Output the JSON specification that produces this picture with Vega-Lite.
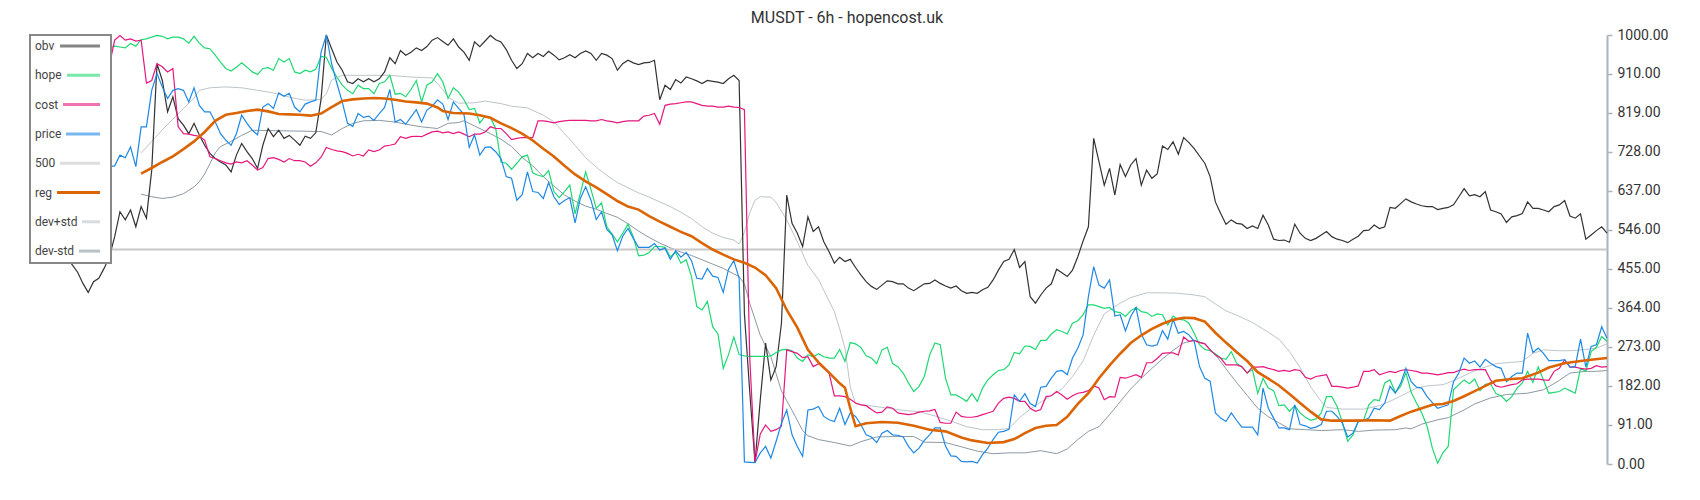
{
"$schema": "https://vega.github.io/schema/vega-lite/v6.json",
"width": 1577,
"height": 429,
"autosize": {"type": "none"},
"padding": {"left": 30, "top": 35, "right": 93, "bottom": 36},
"background": "white",
"title": {"text": "MUSDT - 6h - hopencost.uk", "font": "Roboto", "fontSize": 16, "fontWeight": "normal", "color": "#333333", "anchor": "middle", "frame": "bounds", "offset": 2},
"config": {"view": {"stroke": null}, "font": "Roboto"},
"datasets": {
"main": [
{"i":0,"obv":545,"hope":975,"cost":900,"price":700},
{"i":1,"obv":530,"hope":978,"cost":905,"price":705},
{"i":2,"obv":555,"hope":972,"cost":910,"price":695},
{"i":3,"obv":528,"hope":980,"cost":902,"price":710},
{"i":4,"obv":512,"hope":985,"cost":895,"price":700},
{"i":5,"obv":500,"hope":978,"cost":905,"price":690},
{"i":6,"obv":490,"hope":982,"cost":912,"price":698},
{"i":7,"obv":478,"hope":988,"cost":908,"price":705},
{"i":8,"obv":464,"hope":980,"cost":900,"price":700},
{"i":9,"obv":447,"hope":975,"cost":895,"price":692},
{"i":10,"obv":421,"hope":970,"cost":890,"price":700},
{"i":11,"obv":400,"hope":968,"cost":885,"price":695},
{"i":12,"obv":425,"hope":972,"cost":880,"price":690},
{"i":13,"obv":433,"hope":966,"cost":875,"price":698},
{"i":14,"obv":456,"hope":965,"cost":870,"price":697},
{"i":15,"obv":483,"hope":970,"cost":930,"price":693},
{"i":16,"obv":530,"hope":974,"cost":988,"price":695},
{"i":17,"obv":588,"hope":972,"cost":999,"price":720},
{"i":18,"obv":569,"hope":970,"cost":988,"price":714},
{"i":19,"obv":592,"hope":980,"cost":991,"price":739},
{"i":20,"obv":553,"hope":974,"cost":986,"price":693},
{"i":21,"obv":600,"hope":989,"cost":988,"price":786},
{"i":22,"obv":573,"hope":991,"cost":888,"price":786},
{"i":23,"obv":685,"hope":995,"cost":894,"price":871},
{"i":24,"obv":933,"hope":999,"cost":933,"price":910},
{"i":25,"obv":894,"hope":997,"cost":926,"price":879},
{"i":26,"obv":821,"hope":991,"cost":914,"price":852},
{"i":27,"obv":856,"hope":995,"cost":922,"price":871},
{"i":28,"obv":805,"hope":995,"cost":786,"price":875},
{"i":29,"obv":790,"hope":991,"cost":770,"price":871},
{"i":30,"obv":770,"hope":981,"cost":769,"price":844},
{"i":31,"obv":794,"hope":997,"cost":766,"price":877},
{"i":32,"obv":767,"hope":981,"cost":764,"price":836},
{"i":33,"obv":743,"hope":970,"cost":755,"price":821},
{"i":34,"obv":724,"hope":968,"cost":716,"price":821},
{"i":35,"obv":712,"hope":953,"cost":712,"price":798},
{"i":36,"obv":704,"hope":937,"cost":707,"price":770},
{"i":37,"obv":697,"hope":922,"cost":702,"price":755},
{"i":38,"obv":681,"hope":916,"cost":699,"price":743},
{"i":39,"obv":720,"hope":925,"cost":704,"price":770},
{"i":40,"obv":747,"hope":935,"cost":702,"price":813},
{"i":41,"obv":728,"hope":925,"cost":707,"price":794},
{"i":42,"obv":712,"hope":914,"cost":697,"price":778},
{"i":43,"obv":689,"hope":908,"cost":685,"price":767},
{"i":44,"obv":743,"hope":922,"cost":691,"price":832},
{"i":45,"obv":782,"hope":924,"cost":712,"price":840},
{"i":46,"obv":763,"hope":918,"cost":714,"price":829},
{"i":47,"obv":778,"hope":945,"cost":710,"price":865},
{"i":48,"obv":759,"hope":937,"cost":704,"price":857},
{"i":49,"obv":766,"hope":945,"cost":712,"price":864},
{"i":50,"obv":755,"hope":914,"cost":707,"price":832},
{"i":51,"obv":743,"hope":910,"cost":707,"price":821},
{"i":52,"obv":764,"hope":918,"cost":704,"price":839},
{"i":53,"obv":759,"hope":914,"cost":694,"price":844},
{"i":54,"obv":772,"hope":920,"cost":702,"price":848},
{"i":55,"obv":850,"hope":950,"cost":715,"price":960},
{"i":56,"obv":1000,"hope":948,"cost":738,"price":1000},
{"i":57,"obv":968,"hope":922,"cost":733,"price":933},
{"i":58,"obv":937,"hope":902,"cost":730,"price":887},
{"i":59,"obv":918,"hope":883,"cost":728,"price":844},
{"i":60,"obv":891,"hope":871,"cost":724,"price":794},
{"i":61,"obv":887,"hope":863,"cost":718,"price":787},
{"i":62,"obv":898,"hope":883,"cost":722,"price":817},
{"i":63,"obv":891,"hope":875,"cost":718,"price":808},
{"i":64,"obv":898,"hope":875,"cost":732,"price":811},
{"i":65,"obv":891,"hope":863,"cost":728,"price":801},
{"i":66,"obv":898,"hope":887,"cost":732,"price":817},
{"i":67,"obv":914,"hope":891,"cost":741,"price":831},
{"i":68,"obv":947,"hope":906,"cost":743,"price":873},
{"i":69,"obv":933,"hope":862,"cost":746,"price":797},
{"i":70,"obv":964,"hope":864,"cost":763,"price":803},
{"i":71,"obv":953,"hope":856,"cost":759,"price":792},
{"i":72,"obv":960,"hope":873,"cost":763,"price":809},
{"i":73,"obv":970,"hope":894,"cost":764,"price":826},
{"i":74,"obv":964,"hope":844,"cost":763,"price":797},
{"i":75,"obv":973,"hope":883,"cost":769,"price":825},
{"i":76,"obv":988,"hope":891,"cost":774,"price":834},
{"i":77,"obv":994,"hope":910,"cost":776,"price":849},
{"i":78,"obv":985,"hope":891,"cost":772,"price":839},
{"i":79,"obv":976,"hope":852,"cost":774,"price":803},
{"i":80,"obv":991,"hope":877,"cost":770,"price":844},
{"i":81,"obv":972,"hope":867,"cost":774,"price":829},
{"i":82,"obv":960,"hope":849,"cost":769,"price":815},
{"i":83,"obv":941,"hope":826,"cost":763,"price":738},
{"i":84,"obv":984,"hope":829,"cost":769,"price":767},
{"i":85,"obv":973,"hope":795,"cost":769,"price":720},
{"i":86,"obv":986,"hope":811,"cost":774,"price":738},
{"i":87,"obv":999,"hope":808,"cost":786,"price":739},
{"i":88,"obv":989,"hope":782,"cost":782,"price":728},
{"i":89,"obv":984,"hope":704,"cost":782,"price":712},
{"i":90,"obv":966,"hope":701,"cost":770,"price":670},
{"i":91,"obv":941,"hope":687,"cost":756,"price":666},
{"i":92,"obv":922,"hope":701,"cost":759,"price":615},
{"i":93,"obv":933,"hope":716,"cost":761,"price":628},
{"i":94,"obv":957,"hope":720,"cost":761,"price":681},
{"i":95,"obv":947,"hope":679,"cost":761,"price":635},
{"i":96,"obv":957,"hope":673,"cost":800,"price":633},
{"i":97,"obv":950,"hope":670,"cost":800,"price":619},
{"i":98,"obv":962,"hope":684,"cost":798,"price":656},
{"i":99,"obv":953,"hope":635,"cost":795,"price":623},
{"i":100,"obv":942,"hope":621,"cost":798,"price":605},
{"i":101,"obv":947,"hope":635,"cost":800,"price":614},
{"i":102,"obv":954,"hope":650,"cost":801,"price":621},
{"i":103,"obv":947,"hope":583,"cost":801,"price":562},
{"i":104,"obv":957,"hope":631,"cost":801,"price":619},
{"i":105,"obv":963,"hope":681,"cost":801,"price":646},
{"i":106,"obv":957,"hope":640,"cost":800,"price":615},
{"i":107,"obv":941,"hope":596,"cost":800,"price":570},
{"i":108,"obv":957,"hope":609,"cost":803,"price":588},
{"i":109,"obv":953,"hope":553,"cost":800,"price":547},
{"i":110,"obv":945,"hope":536,"cost":798,"price":534},
{"i":111,"obv":918,"hope":518,"cost":795,"price":497},
{"i":112,"obv":933,"hope":538,"cost":798,"price":531},
{"i":113,"obv":941,"hope":559,"cost":800,"price":549},
{"i":114,"obv":935,"hope":530,"cost":800,"price":526},
{"i":115,"obv":931,"hope":485,"cost":800,"price":505},
{"i":116,"obv":935,"hope":487,"cost":811,"price":505},
{"i":117,"obv":936,"hope":493,"cost":813,"price":505},
{"i":118,"obv":941,"hope":507,"cost":817,"price":514},
{"i":119,"obv":849,"hope":507,"cost":792,"price":499},
{"i":120,"obv":883,"hope":505,"cost":836,"price":503},
{"i":121,"obv":873,"hope":483,"cost":839,"price":477},
{"i":122,"obv":896,"hope":493,"cost":840,"price":497},
{"i":123,"obv":888,"hope":468,"cost":842,"price":482},
{"i":124,"obv":902,"hope":476,"cost":844,"price":493},
{"i":125,"obv":898,"hope":437,"cost":844,"price":474},
{"i":126,"obv":893,"hope":367,"cost":840,"price":433},
{"i":127,"obv":887,"hope":359,"cost":836,"price":431},
{"i":128,"obv":894,"hope":379,"cost":834,"price":456},
{"i":129,"obv":892,"hope":320,"cost":834,"price":438},
{"i":130,"obv":890,"hope":303,"cost":832,"price":435},
{"i":131,"obv":887,"hope":223,"cost":832,"price":400},
{"i":132,"obv":898,"hope":255,"cost":834,"price":454},
{"i":133,"obv":906,"hope":296,"cost":832,"price":474},
{"i":134,"obv":894,"hope":255,"cost":831,"price":433},
{"i":135,"obv":350,"hope":252,"cost":826,"price":5},
{"i":136,"obv":170,"hope":251,"cost":250,"price":4},
{"i":137,"obv":3,"hope":251,"cost":4,"price":3},
{"i":138,"obv":150,"hope":251,"cost":70,"price":26},
{"i":139,"obv":282,"hope":251,"cost":91,"price":41},
{"i":140,"obv":196,"hope":252,"cost":76,"price":14},
{"i":141,"obv":227,"hope":260,"cost":80,"price":53},
{"i":142,"obv":328,"hope":266,"cost":88,"price":95},
{"i":143,"obv":627,"hope":267,"cost":266,"price":126},
{"i":144,"obv":561,"hope":264,"cost":262,"price":68},
{"i":145,"obv":538,"hope":247,"cost":258,"price":41},
{"i":146,"obv":507,"hope":239,"cost":248,"price":18},
{"i":147,"obv":576,"hope":255,"cost":250,"price":126},
{"i":148,"obv":542,"hope":250,"cost":227,"price":128},
{"i":149,"obv":553,"hope":257,"cost":234,"price":134},
{"i":150,"obv":518,"hope":250,"cost":223,"price":111},
{"i":151,"obv":495,"hope":247,"cost":212,"price":103},
{"i":152,"obv":468,"hope":247,"cost":159,"price":99},
{"i":153,"obv":482,"hope":267,"cost":159,"price":130},
{"i":154,"obv":472,"hope":239,"cost":157,"price":92},
{"i":155,"obv":477,"hope":283,"cost":151,"price":119},
{"i":156,"obv":458,"hope":280,"cost":142,"price":111},
{"i":157,"obv":441,"hope":272,"cost":138,"price":92},
{"i":158,"obv":425,"hope":252,"cost":136,"price":68},
{"i":159,"obv":414,"hope":247,"cost":127,"price":63},
{"i":160,"obv":407,"hope":234,"cost":119,"price":50},
{"i":161,"obv":417,"hope":266,"cost":121,"price":72},
{"i":162,"obv":427,"hope":272,"cost":133,"price":78},
{"i":163,"obv":425,"hope":234,"cost":130,"price":68},
{"i":164,"obv":420,"hope":227,"cost":119,"price":67},
{"i":165,"obv":420,"hope":212,"cost":117,"price":63},
{"i":166,"obv":410,"hope":189,"cost":115,"price":41},
{"i":167,"obv":404,"hope":169,"cost":117,"price":26},
{"i":168,"obv":412,"hope":181,"cost":121,"price":37},
{"i":169,"obv":420,"hope":204,"cost":123,"price":55},
{"i":170,"obv":421,"hope":254,"cost":124,"price":68},
{"i":171,"obv":429,"hope":282,"cost":127,"price":84},
{"i":172,"obv":421,"hope":278,"cost":97,"price":84},
{"i":173,"obv":415,"hope":200,"cost":95,"price":42},
{"i":174,"obv":410,"hope":161,"cost":95,"price":19},
{"i":175,"obv":415,"hope":161,"cost":121,"price":18},
{"i":176,"obv":404,"hope":154,"cost":111,"price":6},
{"i":177,"obv":398,"hope":146,"cost":109,"price":5},
{"i":178,"obv":400,"hope":164,"cost":109,"price":6},
{"i":179,"obv":398,"hope":146,"cost":111,"price":2},
{"i":180,"obv":406,"hope":177,"cost":115,"price":22},
{"i":181,"obv":412,"hope":196,"cost":119,"price":37},
{"i":182,"obv":429,"hope":208,"cost":123,"price":57},
{"i":183,"obv":452,"hope":218,"cost":142,"price":74},
{"i":184,"obv":472,"hope":220,"cost":153,"price":76},
{"i":185,"obv":477,"hope":231,"cost":156,"price":81},
{"i":186,"obv":500,"hope":260,"cost":153,"price":161},
{"i":187,"obv":458,"hope":257,"cost":146,"price":146},
{"i":188,"obv":472,"hope":275,"cost":146,"price":164},
{"i":189,"obv":390,"hope":274,"cost":130,"price":141},
{"i":190,"obv":375,"hope":267,"cost":123,"price":134},
{"i":191,"obv":394,"hope":288,"cost":127,"price":179},
{"i":192,"obv":410,"hope":288,"cost":157,"price":181},
{"i":193,"obv":420,"hope":303,"cost":159,"price":200},
{"i":194,"obv":454,"hope":313,"cost":169,"price":216},
{"i":195,"obv":446,"hope":309,"cost":161,"price":218},
{"i":196,"obv":437,"hope":303,"cost":151,"price":208},
{"i":197,"obv":452,"hope":328,"cost":159,"price":247},
{"i":198,"obv":483,"hope":334,"cost":165,"price":270},
{"i":199,"obv":520,"hope":348,"cost":167,"price":301},
{"i":200,"obv":553,"hope":371,"cost":171,"price":390},
{"i":201,"obv":759,"hope":371,"cost":182,"price":460},
{"i":202,"obv":705,"hope":367,"cost":177,"price":417},
{"i":203,"obv":650,"hope":363,"cost":150,"price":410},
{"i":204,"obv":689,"hope":365,"cost":157,"price":429},
{"i":205,"obv":627,"hope":355,"cost":156,"price":345},
{"i":206,"obv":698,"hope":353,"cost":202,"price":348},
{"i":207,"obv":670,"hope":344,"cost":200,"price":310},
{"i":208,"obv":697,"hope":357,"cost":204,"price":344},
{"i":209,"obv":712,"hope":365,"cost":208,"price":365},
{"i":210,"obv":650,"hope":355,"cost":202,"price":303},
{"i":211,"obv":685,"hope":353,"cost":236,"price":278},
{"i":212,"obv":666,"hope":344,"cost":236,"price":275},
{"i":213,"obv":676,"hope":350,"cost":246,"price":278},
{"i":214,"obv":741,"hope":348,"cost":258,"price":311},
{"i":215,"obv":733,"hope":324,"cost":259,"price":291},
{"i":216,"obv":751,"hope":345,"cost":259,"price":337},
{"i":217,"obv":722,"hope":337,"cost":254,"price":305},
{"i":218,"obv":761,"hope":336,"cost":296,"price":309},
{"i":219,"obv":749,"hope":328,"cost":286,"price":301},
{"i":220,"obv":735,"hope":305,"cost":288,"price":286},
{"i":221,"obv":718,"hope":278,"cost":283,"price":227},
{"i":222,"obv":701,"hope":267,"cost":280,"price":200},
{"i":223,"obv":670,"hope":264,"cost":266,"price":193},
{"i":224,"obv":611,"hope":257,"cost":254,"price":119},
{"i":225,"obv":584,"hope":247,"cost":247,"price":107},
{"i":226,"obv":559,"hope":244,"cost":231,"price":99},
{"i":227,"obv":569,"hope":262,"cost":231,"price":119},
{"i":228,"obv":561,"hope":235,"cost":231,"price":102},
{"i":229,"obv":559,"hope":226,"cost":227,"price":86},
{"i":230,"obv":549,"hope":212,"cost":212,"price":86},
{"i":231,"obv":555,"hope":220,"cost":226,"price":86},
{"i":232,"obv":549,"hope":165,"cost":226,"price":68},
{"i":233,"obv":580,"hope":200,"cost":227,"price":177},
{"i":234,"obv":557,"hope":177,"cost":223,"price":130},
{"i":235,"obv":524,"hope":171,"cost":220,"price":107},
{"i":236,"obv":521,"hope":136,"cost":216,"price":84},
{"i":237,"obv":522,"hope":138,"cost":218,"price":84},
{"i":238,"obv":517,"hope":123,"cost":216,"price":80},
{"i":239,"obv":559,"hope":136,"cost":220,"price":138},
{"i":240,"obv":538,"hope":119,"cost":218,"price":92},
{"i":241,"obv":526,"hope":109,"cost":202,"price":89},
{"i":242,"obv":521,"hope":102,"cost":198,"price":83},
{"i":243,"obv":526,"hope":105,"cost":204,"price":86},
{"i":244,"obv":534,"hope":119,"cost":206,"price":92},
{"i":245,"obv":542,"hope":157,"cost":208,"price":123},
{"i":246,"obv":530,"hope":157,"cost":181,"price":123},
{"i":247,"obv":524,"hope":134,"cost":181,"price":111},
{"i":248,"obv":521,"hope":97,"cost":179,"price":95},
{"i":249,"obv":516,"hope":53,"cost":177,"price":63},
{"i":250,"obv":524,"hope":68,"cost":179,"price":72},
{"i":251,"obv":531,"hope":99,"cost":182,"price":99},
{"i":252,"obv":544,"hope":102,"cost":216,"price":102},
{"i":253,"obv":545,"hope":138,"cost":216,"price":107},
{"i":254,"obv":557,"hope":150,"cost":220,"price":130},
{"i":255,"obv":549,"hope":148,"cost":208,"price":127},
{"i":256,"obv":553,"hope":189,"cost":212,"price":142},
{"i":257,"obv":598,"hope":196,"cost":216,"price":181},
{"i":258,"obv":596,"hope":167,"cost":213,"price":165},
{"i":259,"obv":607,"hope":181,"cost":218,"price":188},
{"i":260,"obv":618,"hope":213,"cost":220,"price":223},
{"i":261,"obv":611,"hope":167,"cost":218,"price":192},
{"i":262,"obv":606,"hope":142,"cost":216,"price":179},
{"i":263,"obv":602,"hope":119,"cost":212,"price":177},
{"i":264,"obv":600,"hope":88,"cost":212,"price":157},
{"i":265,"obv":600,"hope":37,"cost":210,"price":143},
{"i":266,"obv":593,"hope":2,"cost":208,"price":130},
{"i":267,"obv":596,"hope":26,"cost":210,"price":134},
{"i":268,"obv":598,"hope":41,"cost":213,"price":138},
{"i":269,"obv":604,"hope":173,"cost":213,"price":192},
{"i":270,"obv":623,"hope":185,"cost":218,"price":212},
{"i":271,"obv":642,"hope":196,"cost":221,"price":247},
{"i":272,"obv":625,"hope":187,"cost":218,"price":235},
{"i":273,"obv":628,"hope":198,"cost":220,"price":240},
{"i":274,"obv":623,"hope":171,"cost":220,"price":226},
{"i":275,"obv":635,"hope":186,"cost":220,"price":244},
{"i":276,"obv":592,"hope":187,"cost":196,"price":235},
{"i":277,"obv":588,"hope":164,"cost":182,"price":227},
{"i":278,"obv":583,"hope":159,"cost":179,"price":223},
{"i":279,"obv":563,"hope":146,"cost":182,"price":192},
{"i":280,"obv":576,"hope":157,"cost":185,"price":204},
{"i":281,"obv":579,"hope":177,"cost":187,"price":212},
{"i":282,"obv":584,"hope":189,"cost":196,"price":212},
{"i":283,"obv":611,"hope":216,"cost":198,"price":305},
{"i":284,"obv":596,"hope":190,"cost":198,"price":260},
{"i":285,"obv":596,"hope":226,"cost":198,"price":270},
{"i":286,"obv":592,"hope":196,"cost":196,"price":258},
{"i":287,"obv":588,"hope":165,"cost":195,"price":241},
{"i":288,"obv":600,"hope":167,"cost":216,"price":241},
{"i":289,"obv":604,"hope":169,"cost":223,"price":241},
{"i":290,"obv":614,"hope":177,"cost":243,"price":243},
{"i":291,"obv":578,"hope":171,"cost":226,"price":226},
{"i":292,"obv":573,"hope":165,"cost":226,"price":227},
{"i":293,"obv":583,"hope":223,"cost":223,"price":291},
{"i":294,"obv":524,"hope":216,"cost":221,"price":226},
{"i":295,"obv":534,"hope":262,"cost":223,"price":274},
{"i":296,"obv":544,"hope":272,"cost":229,"price":278},
{"i":297,"obv":553,"hope":297,"cost":226,"price":320},
{"i":298,"obv":538,"hope":286,"cost":227,"price":293}
],
"bands": [
{"s":"500","i":0,"v":500},{"s":"500","i":298,"v":500},
{"s":"reg","i":21,"v":677},{"s":"reg","i":23,"v":690},{"s":"reg","i":25,"v":704},{"s":"reg","i":27,"v":717},{"s":"reg","i":29,"v":734},{"s":"reg","i":31,"v":752},{"s":"reg","i":33,"v":774},{"s":"reg","i":35,"v":800},{"s":"reg","i":37,"v":814},{"s":"reg","i":39,"v":818},{"s":"reg","i":41,"v":823},{"s":"reg","i":43,"v":826},{"s":"reg","i":45,"v":822},{"s":"reg","i":47,"v":816},{"s":"reg","i":49,"v":815},{"s":"reg","i":51,"v":814},{"s":"reg","i":53,"v":812},{"s":"reg","i":55,"v":817},{"s":"reg","i":57,"v":832},{"s":"reg","i":59,"v":846},{"s":"reg","i":61,"v":850},{"s":"reg","i":63,"v":852},{"s":"reg","i":65,"v":853},{"s":"reg","i":67,"v":852},{"s":"reg","i":69,"v":849},{"s":"reg","i":71,"v":845},{"s":"reg","i":73,"v":843},{"s":"reg","i":75,"v":840},{"s":"reg","i":77,"v":831},{"s":"reg","i":78,"v":823},{"s":"reg","i":80,"v":818},{"s":"reg","i":83,"v":817},{"s":"reg","i":85,"v":813},{"s":"reg","i":87,"v":807},{"s":"reg","i":89,"v":794},{"s":"reg","i":91,"v":783},{"s":"reg","i":93,"v":770},{"s":"reg","i":95,"v":754},{"s":"reg","i":97,"v":735},{"s":"reg","i":99,"v":717},{"s":"reg","i":101,"v":695},{"s":"reg","i":103,"v":675},{"s":"reg","i":105,"v":659},{"s":"reg","i":107,"v":645},{"s":"reg","i":109,"v":629},{"s":"reg","i":111,"v":613},{"s":"reg","i":113,"v":600},{"s":"reg","i":115,"v":593},{"s":"reg","i":117,"v":578},{"s":"reg","i":119,"v":565},{"s":"reg","i":121,"v":553},{"s":"reg","i":123,"v":541},{"s":"reg","i":125,"v":531},{"s":"reg","i":127,"v":515},{"s":"reg","i":129,"v":500},{"s":"reg","i":131,"v":488},{"s":"reg","i":133,"v":477},{"s":"reg","i":135,"v":469},{"s":"reg","i":137,"v":458},{"s":"reg","i":139,"v":440},{"s":"reg","i":141,"v":410},{"s":"reg","i":143,"v":359},{"s":"reg","i":145,"v":318},{"s":"reg","i":147,"v":266},{"s":"reg","i":149,"v":237},{"s":"reg","i":151,"v":213},{"s":"reg","i":153,"v":188},{"s":"reg","i":154,"v":178},{"s":"reg","i":155,"v":130},{"s":"reg","i":156,"v":88},{"s":"reg","i":158,"v":95},{"s":"reg","i":161,"v":98},{"s":"reg","i":164,"v":96},{"s":"reg","i":167,"v":89},{"s":"reg","i":170,"v":80},{"s":"reg","i":173,"v":76},{"s":"reg","i":176,"v":62},{"s":"reg","i":178,"v":55},{"s":"reg","i":181,"v":49},{"s":"reg","i":184,"v":51},{"s":"reg","i":186,"v":58},{"s":"reg","i":188,"v":72},{"s":"reg","i":190,"v":84},{"s":"reg","i":192,"v":89},{"s":"reg","i":194,"v":91},{"s":"reg","i":196,"v":110},{"s":"reg","i":198,"v":140},{"s":"reg","i":200,"v":165},{"s":"reg","i":202,"v":200},{"s":"reg","i":204,"v":230},{"s":"reg","i":206,"v":257},{"s":"reg","i":208,"v":282},{"s":"reg","i":210,"v":300},{"s":"reg","i":212,"v":315},{"s":"reg","i":214,"v":327},{"s":"reg","i":216,"v":336},{"s":"reg","i":218,"v":341},{"s":"reg","i":220,"v":340},{"s":"reg","i":222,"v":332},{"s":"reg","i":224,"v":306},{"s":"reg","i":226,"v":283},{"s":"reg","i":228,"v":261},{"s":"reg","i":230,"v":240},{"s":"reg","i":232,"v":214},{"s":"reg","i":234,"v":199},{"s":"reg","i":236,"v":183},{"s":"reg","i":238,"v":163},{"s":"reg","i":240,"v":142},{"s":"reg","i":242,"v":122},{"s":"reg","i":244,"v":104},{"s":"reg","i":246,"v":101},{"s":"reg","i":250,"v":101},{"s":"reg","i":254,"v":102},{"s":"reg","i":257,"v":101},{"s":"reg","i":259,"v":112},{"s":"reg","i":261,"v":122},{"s":"reg","i":263,"v":130},{"s":"reg","i":265,"v":138},{"s":"reg","i":267,"v":140},{"s":"reg","i":269,"v":147},{"s":"reg","i":271,"v":158},{"s":"reg","i":273,"v":170},{"s":"reg","i":275,"v":182},{"s":"reg","i":277,"v":194},{"s":"reg","i":280,"v":198},{"s":"reg","i":282,"v":200},{"s":"reg","i":285,"v":213},{"s":"reg","i":287,"v":225},{"s":"reg","i":290,"v":235},{"s":"reg","i":293,"v":240},{"s":"reg","i":295,"v":243},{"s":"reg","i":298,"v":247},
{"s":"dev+std","i":21,"v":725},{"s":"dev+std","i":23,"v":752},{"s":"dev+std","i":25,"v":779},{"s":"dev+std","i":27,"v":804},{"s":"dev+std","i":29,"v":829},{"s":"dev+std","i":31,"v":853},{"s":"dev+std","i":32,"v":871},{"s":"dev+std","i":34,"v":877},{"s":"dev+std","i":37,"v":879},{"s":"dev+std","i":40,"v":877},{"s":"dev+std","i":43,"v":871},{"s":"dev+std","i":46,"v":865},{"s":"dev+std","i":49,"v":855},{"s":"dev+std","i":52,"v":848},{"s":"dev+std","i":55,"v":850},{"s":"dev+std","i":56,"v":863},{"s":"dev+std","i":57,"v":895},{"s":"dev+std","i":59,"v":906},{"s":"dev+std","i":68,"v":906},{"s":"dev+std","i":72,"v":902},{"s":"dev+std","i":76,"v":900},{"s":"dev+std","i":78,"v":873},{"s":"dev+std","i":79,"v":855},{"s":"dev+std","i":81,"v":841},{"s":"dev+std","i":84,"v":842},{"s":"dev+std","i":86,"v":846},{"s":"dev+std","i":89,"v":840},{"s":"dev+std","i":91,"v":834},{"s":"dev+std","i":94,"v":830},{"s":"dev+std","i":97,"v":813},{"s":"dev+std","i":99,"v":798},{"s":"dev+std","i":101,"v":770},{"s":"dev+std","i":103,"v":743},{"s":"dev+std","i":105,"v":714},{"s":"dev+std","i":107,"v":692},{"s":"dev+std","i":109,"v":673},{"s":"dev+std","i":111,"v":656},{"s":"dev+std","i":113,"v":644},{"s":"dev+std","i":115,"v":632},{"s":"dev+std","i":117,"v":622},{"s":"dev+std","i":119,"v":611},{"s":"dev+std","i":121,"v":600},{"s":"dev+std","i":123,"v":587},{"s":"dev+std","i":125,"v":572},{"s":"dev+std","i":127,"v":553},{"s":"dev+std","i":129,"v":538},{"s":"dev+std","i":131,"v":528},{"s":"dev+std","i":133,"v":522},{"s":"dev+std","i":134,"v":513},{"s":"dev+std","i":135,"v":540},{"s":"dev+std","i":136,"v":585},{"s":"dev+std","i":137,"v":615},{"s":"dev+std","i":138,"v":623},{"s":"dev+std","i":140,"v":622},{"s":"dev+std","i":141,"v":610},{"s":"dev+std","i":143,"v":569},{"s":"dev+std","i":145,"v":518},{"s":"dev+std","i":147,"v":463},{"s":"dev+std","i":149,"v":430},{"s":"dev+std","i":150,"v":405},{"s":"dev+std","i":152,"v":355},{"s":"dev+std","i":153,"v":315},{"s":"dev+std","i":154,"v":270},{"s":"dev+std","i":155,"v":180},{"s":"dev+std","i":156,"v":140},{"s":"dev+std","i":158,"v":137},{"s":"dev+std","i":161,"v":132},{"s":"dev+std","i":165,"v":125},{"s":"dev+std","i":168,"v":122},{"s":"dev+std","i":171,"v":112},{"s":"dev+std","i":174,"v":100},{"s":"dev+std","i":177,"v":87},{"s":"dev+std","i":180,"v":80},{"s":"dev+std","i":183,"v":80},{"s":"dev+std","i":185,"v":83},{"s":"dev+std","i":187,"v":108},{"s":"dev+std","i":189,"v":128},{"s":"dev+std","i":192,"v":152},{"s":"dev+std","i":195,"v":175},{"s":"dev+std","i":197,"v":204},{"s":"dev+std","i":199,"v":240},{"s":"dev+std","i":201,"v":300},{"s":"dev+std","i":203,"v":350},{"s":"dev+std","i":206,"v":375},{"s":"dev+std","i":208,"v":388},{"s":"dev+std","i":211,"v":399},{"s":"dev+std","i":214,"v":399},{"s":"dev+std","i":217,"v":398},{"s":"dev+std","i":220,"v":394},{"s":"dev+std","i":222,"v":390},{"s":"dev+std","i":224,"v":373},{"s":"dev+std","i":226,"v":357},{"s":"dev+std","i":228,"v":347},{"s":"dev+std","i":231,"v":330},{"s":"dev+std","i":234,"v":307},{"s":"dev+std","i":236,"v":291},{"s":"dev+std","i":238,"v":262},{"s":"dev+std","i":240,"v":225},{"s":"dev+std","i":242,"v":180},{"s":"dev+std","i":244,"v":146},{"s":"dev+std","i":245,"v":132},{"s":"dev+std","i":248,"v":128},{"s":"dev+std","i":252,"v":128},{"s":"dev+std","i":255,"v":136},{"s":"dev+std","i":257,"v":146},{"s":"dev+std","i":259,"v":158},{"s":"dev+std","i":262,"v":177},{"s":"dev+std","i":264,"v":182},{"s":"dev+std","i":267,"v":185},{"s":"dev+std","i":269,"v":194},{"s":"dev+std","i":272,"v":212},{"s":"dev+std","i":274,"v":222},{"s":"dev+std","i":277,"v":234},{"s":"dev+std","i":280,"v":237},{"s":"dev+std","i":282,"v":239},{"s":"dev+std","i":284,"v":258},{"s":"dev+std","i":286,"v":266},{"s":"dev+std","i":289,"v":264},{"s":"dev+std","i":291,"v":264},{"s":"dev+std","i":294,"v":267},{"s":"dev+std","i":296,"v":270},{"s":"dev+std","i":298,"v":280},
{"s":"dev-std","i":21,"v":629},{"s":"dev-std","i":23,"v":623},{"s":"dev-std","i":25,"v":619},{"s":"dev-std","i":27,"v":622},{"s":"dev-std","i":29,"v":630},{"s":"dev-std","i":31,"v":646},{"s":"dev-std","i":32,"v":658},{"s":"dev-std","i":33,"v":676},{"s":"dev-std","i":34,"v":700},{"s":"dev-std","i":35,"v":725},{"s":"dev-std","i":36,"v":740},{"s":"dev-std","i":38,"v":752},{"s":"dev-std","i":40,"v":766},{"s":"dev-std","i":42,"v":778},{"s":"dev-std","i":55,"v":775},{"s":"dev-std","i":57,"v":767},{"s":"dev-std","i":59,"v":782},{"s":"dev-std","i":61,"v":794},{"s":"dev-std","i":63,"v":800},{"s":"dev-std","i":66,"v":801},{"s":"dev-std","i":69,"v":797},{"s":"dev-std","i":72,"v":790},{"s":"dev-std","i":74,"v":786},{"s":"dev-std","i":77,"v":782},{"s":"dev-std","i":79,"v":794},{"s":"dev-std","i":81,"v":796},{"s":"dev-std","i":82,"v":800},{"s":"dev-std","i":84,"v":788},{"s":"dev-std","i":87,"v":770},{"s":"dev-std","i":89,"v":757},{"s":"dev-std","i":91,"v":740},{"s":"dev-std","i":93,"v":715},{"s":"dev-std","i":95,"v":695},{"s":"dev-std","i":97,"v":670},{"s":"dev-std","i":99,"v":648},{"s":"dev-std","i":101,"v":627},{"s":"dev-std","i":103,"v":613},{"s":"dev-std","i":105,"v":601},{"s":"dev-std","i":107,"v":594},{"s":"dev-std","i":109,"v":584},{"s":"dev-std","i":111,"v":575},{"s":"dev-std","i":113,"v":560},{"s":"dev-std","i":115,"v":543},{"s":"dev-std","i":117,"v":528},{"s":"dev-std","i":119,"v":515},{"s":"dev-std","i":121,"v":504},{"s":"dev-std","i":123,"v":494},{"s":"dev-std","i":125,"v":486},{"s":"dev-std","i":127,"v":476},{"s":"dev-std","i":129,"v":466},{"s":"dev-std","i":131,"v":456},{"s":"dev-std","i":133,"v":443},{"s":"dev-std","i":134,"v":437},{"s":"dev-std","i":135,"v":420},{"s":"dev-std","i":136,"v":375},{"s":"dev-std","i":138,"v":300},{"s":"dev-std","i":140,"v":250},{"s":"dev-std","i":142,"v":170},{"s":"dev-std","i":144,"v":125},{"s":"dev-std","i":146,"v":78},{"s":"dev-std","i":147,"v":66},{"s":"dev-std","i":149,"v":57},{"s":"dev-std","i":152,"v":50},{"s":"dev-std","i":155,"v":42},{"s":"dev-std","i":157,"v":52},{"s":"dev-std","i":160,"v":63},{"s":"dev-std","i":163,"v":64},{"s":"dev-std","i":167,"v":64},{"s":"dev-std","i":169,"v":51},{"s":"dev-std","i":173,"v":50},{"s":"dev-std","i":176,"v":40},{"s":"dev-std","i":179,"v":30},{"s":"dev-std","i":182,"v":24},{"s":"dev-std","i":185,"v":26},{"s":"dev-std","i":188,"v":26},{"s":"dev-std","i":191,"v":31},{"s":"dev-std","i":194,"v":24},{"s":"dev-std","i":196,"v":35},{"s":"dev-std","i":198,"v":57},{"s":"dev-std","i":200,"v":76},{"s":"dev-std","i":202,"v":87},{"s":"dev-std","i":204,"v":115},{"s":"dev-std","i":206,"v":145},{"s":"dev-std","i":208,"v":175},{"s":"dev-std","i":210,"v":200},{"s":"dev-std","i":212,"v":223},{"s":"dev-std","i":214,"v":245},{"s":"dev-std","i":216,"v":265},{"s":"dev-std","i":218,"v":282},{"s":"dev-std","i":220,"v":288},{"s":"dev-std","i":222,"v":281},{"s":"dev-std","i":224,"v":255},{"s":"dev-std","i":226,"v":222},{"s":"dev-std","i":228,"v":190},{"s":"dev-std","i":230,"v":160},{"s":"dev-std","i":232,"v":130},{"s":"dev-std","i":234,"v":110},{"s":"dev-std","i":236,"v":96},{"s":"dev-std","i":238,"v":82},{"s":"dev-std","i":241,"v":80},{"s":"dev-std","i":244,"v":78},{"s":"dev-std","i":248,"v":80},{"s":"dev-std","i":251,"v":76},{"s":"dev-std","i":254,"v":79},{"s":"dev-std","i":258,"v":80},{"s":"dev-std","i":260,"v":84},{"s":"dev-std","i":261,"v":82},{"s":"dev-std","i":263,"v":93},{"s":"dev-std","i":266,"v":103},{"s":"dev-std","i":268,"v":108},{"s":"dev-std","i":271,"v":126},{"s":"dev-std","i":273,"v":140},{"s":"dev-std","i":276,"v":154},{"s":"dev-std","i":279,"v":162},{"s":"dev-std","i":283,"v":165},{"s":"dev-std","i":286,"v":173},{"s":"dev-std","i":289,"v":195},{"s":"dev-std","i":291,"v":212},{"s":"dev-std","i":294,"v":216},{"s":"dev-std","i":296,"v":216},{"s":"dev-std","i":298,"v":218}
]
},
"encoding": {
"x": {"field": "i", "type": "quantitative", "scale": {"domain": [0, 298], "nice": false, "zero": false}, "axis": null},
"y": {"field": "v", "type": "quantitative", "scale": {"domain": [0, 1000], "nice": false, "zero": false},
 "axis": {"orient": "right", "values": [0, 91, 182, 273, 364, 455, 546, 637, 728, 819, 910, 1000], "format": ".2f", "title": null, "grid": false, "domainColor": "#aab4bc", "domainWidth": 2, "tickColor": "#aab4bc", "tickWidth": 1.5, "tickSize": 5, "labelFont": "Roboto", "labelFontSize": 14, "labelColor": "#333333", "labelPadding": 5, "labelFlush": false, "labelOverlap": false}},
"color": {"field": "s", "type": "nominal",
 "scale": {"domain": ["obv", "hope", "cost", "price", "500", "reg", "dev+std", "dev-std"], "range": ["#333333", "#1fd973", "#e6177e", "#1e88e5", "#c8c8c8", "#db6504", "#bcc5cc", "#8d99a2"]},
 "legend": {"title": null, "orient": "top-left", "offset": 0, "padding": 5, "fillColor": "white", "strokeColor": "#888888", "cornerRadius": 0, "symbolType": "stroke", "symbolSize": 16, "symbolStrokeWidth": 3, "labelFont": "Roboto", "labelFontSize": 12, "labelColor": "#444444", "rowPadding": 17.3, "zindex": 1,
  "encode": {
   "legend": {"update": {"strokeWidth": {"value": 2}}},
   "labels": {"update": {"x": {"value": 0}, "y": {"value": 6}, "align": {"value": "left"}, "baseline": {"value": "middle"}}},
   "symbols": {"update": {
     "x": {"signal": "65 - (datum.label === 'obv' ? 40 : datum.label === 'hope' ? 33 : datum.label === 'cost' ? 37 : datum.label === 'price' ? 34 : datum.label === '500' ? 40 : datum.label === 'reg' ? 43 : datum.label === 'dev+std' ? 18 : 21) / 2"},
     "y": {"value": 6},
     "size": {"signal": "pow(datum.label === 'obv' ? 40 : datum.label === 'hope' ? 33 : datum.label === 'cost' ? 37 : datum.label === 'price' ? 34 : datum.label === '500' ? 40 : datum.label === 'reg' ? 43 : datum.label === 'dev+std' ? 18 : 21, 2)"},
     "strokeWidth": {"value": 3},
     "opacity": {"signal": "datum.label === 'reg' ? 1 : 0.6"}}}}}}
},
"layer": [
{"data": {"name": "bands"}, "transform": [{"filter": {"field": "s", "oneOf": ["dev+std", "dev-std"]}}], "mark": {"type": "line", "strokeWidth": 1}},
{"data": {"name": "bands"}, "transform": [{"filter": {"field": "s", "equal": "500"}}], "mark": {"type": "line", "strokeWidth": 2}},
{"data": {"name": "main"}, "transform": [{"fold": ["obv", "hope", "cost", "price"], "as": ["s", "v"]}], "mark": {"type": "line", "strokeWidth": 1.2}},
{"data": {"name": "bands"}, "transform": [{"filter": {"field": "s", "equal": "reg"}}], "mark": {"type": "line", "strokeWidth": 2.6}}
]
}
